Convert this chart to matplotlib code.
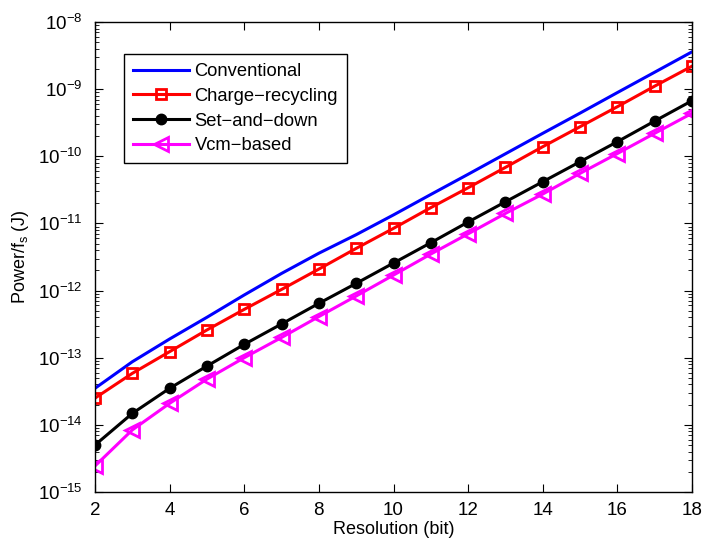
import numpy as np
import matplotlib
matplotlib.use("Agg")
import matplotlib.pyplot as plt

plt.rcParams['font.family'] = ['Liberation Sans', 'DejaVu Sans']
plt.rcParams['mathtext.fontset'] = 'custom'
plt.rcParams['mathtext.rm'] = 'Liberation Sans'
plt.rcParams['mathtext.it'] = 'Liberation Sans:italic'

# resolution in bits
bits = list(range(2, 19))

# energy per conversion (J)
conventional = [3.5e-14, 8.7e-14, 1.9e-13, 4.0e-13, 8.6e-13, 1.8e-12, 3.6e-12,
                6.8e-12, 1.34e-11, 2.7e-11, 5.4e-11, 1.09e-10, 2.2e-10, 4.4e-10,
                8.9e-10, 1.79e-9, 3.6e-9]
charge_recycling = [2.5e-14, 5.85e-14, 1.23e-13, 2.59e-13, 5.25e-13, 1.04e-12, 2.09e-12,
                    4.25e-12, 8.45e-12, 1.72e-11, 3.4e-11, 6.84e-11, 1.39e-10, 2.76e-10,
                    5.48e-10, 1.11e-9, 2.2e-9]
set_and_down = [5.0e-15, 1.48e-14, 3.5e-14, 7.5e-14, 1.58e-13, 3.18e-13, 6.45e-13,
                1.28e-12, 2.57e-12, 5.16e-12, 1.05e-11, 2.1e-11, 4.18e-11, 8.3e-11,
                1.65e-10, 3.35e-10, 6.73e-10]
vcm_based = [2.44e-15, 8.4e-15, 2.09e-14, 4.8e-14, 1.0e-13, 2.0e-13, 4.1e-13,
             8.3e-13, 1.7e-12, 3.5e-12, 7.0e-12, 1.41e-11, 2.74e-11, 5.57e-11,
             1.1e-10, 2.2e-10, 4.37e-10]

fig = plt.figure(figsize=(7.02, 5.41), dpi=100)
ax = fig.add_axes([0.1353, 0.0906, 0.8505, 0.8687])

ax.semilogy(bits, conventional, color='blue', lw=2.2, label='Conventional')
ax.semilogy(bits, charge_recycling, color='red', lw=2.2, marker='s', ms=7,
            mfc='none', mew=2, label='Charge\u2212recycling')
ax.semilogy(bits, set_and_down, color='black', lw=2.2, marker='o', ms=7.5,
            mfc='black', label='Set\u2212and\u2212down')
ax.semilogy(bits, vcm_based, color='magenta', lw=2.2, marker='<', ms=10.5,
            mfc='none', mew=2, label='Vcm\u2212based')

ax.set_xlim(2, 18)
ax.set_ylim(1e-15, 1e-8)
ax.set_xticks(range(2, 19, 2))
ax.set_yticks([10.0**k for k in range(-15, -7)])
ax.tick_params(which='both', direction='in', top=True, right=True, labelsize=13.5)
ax.tick_params(axis='x', pad=7)
ax.tick_params(axis='y', pad=9)
ax.tick_params(which='major', length=6)
ax.tick_params(which='minor', length=3)
for s in ax.spines.values():
    s.set_linewidth(1)

ax.set_xlabel('Resolution (bit)', fontsize=13, labelpad=2)
ax.set_ylabel('Power/f$_\\mathrm{s}$ (J)', fontsize=13, labelpad=5)

leg = ax.legend(loc='upper left', bbox_to_anchor=(0.0486, 0.932), borderaxespad=0,
                fontsize=13.2, fancybox=False, edgecolor='black', framealpha=1,
                handlelength=3.05, handletextpad=0.3, borderpad=0.5,
                labelspacing=0.42)
leg.get_frame().set_linewidth(1)

fig.savefig('out.png', dpi=100)
